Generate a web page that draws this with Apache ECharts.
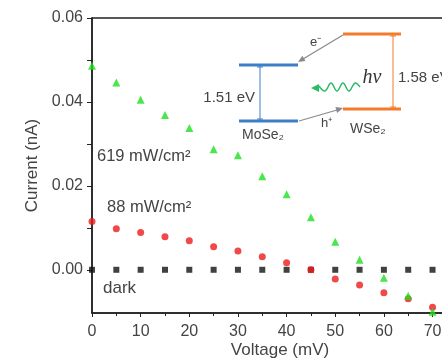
<!DOCTYPE html>
<html>
<head>
<meta charset="utf-8">
<script src="https://cdn.jsdelivr.net/npm/echarts@6/dist/echarts.min.js"></script>
<style>
  html, body { margin: 0; padding: 0; background: #fff; }
  #chart { width: 442px; height: 359px; }
</style>
</head>
<body>
<div id="chart"></div>
<script>
// voltages (mV)
var voltage = [0, 5, 10, 15, 20, 25, 30, 35, 40, 45, 50, 55, 60, 65, 70];
// current (nA) at each voltage
var light619 = [0.0486, 0.0446, 0.0405, 0.0369, 0.0338, 0.0287, 0.0273, 0.0223, 0.0180, 0.0125, 0.0067, 0.0024, -0.0019, -0.0062, -0.0100];
var light88 = [0.0115, 0.0098, 0.0089, 0.0079, 0.0069, 0.0055, 0.0045, 0.0031, 0.0017, 0.0000, -0.0022, -0.0036, -0.0055, -0.0069, -0.0089];
var dark = [0, 0, 0, 0, 0, 0, 0, 0, 0, 0, 0, 0, 0, 0, 0];
var yLabels = [0, 0.02, 0.04, 0.06];
var yTicks = [0, 0.01, 0.02, 0.03, 0.04, 0.05, 0.06];

function pairs(vals) {
	return voltage.map(function (v, i) { return [v, vals[i]]; });
}

var chart = echarts.init(document.getElementById('chart'));

var txt = '#444';
var font = 'Liberation Sans, Arial, sans-serif';

function label(x, y, text, size, align, extra) {
	var s = {
		text: text, fill: txt, font: (size || 13) + 'px ' + font,
		textAlign: align || 'left', textVerticalAlign: 'middle'
	};
	if (extra) for (var k in extra) s[k] = extra[k];
	return { type: 'text', x: x, y: y, style: s, z: 10 };
}
function seg(x1, y1, x2, y2, color, w) {
	return { type: 'line', shape: { x1: x1, y1: y1, x2: x2, y2: y2 }, style: { stroke: color, lineWidth: w }, z: 10 };
}
function head(pts, color) {
	return { type: 'polygon', shape: { points: pts }, style: { fill: color }, z: 10 };
}

var blue = '#3d7fc6', orange = '#f47b2c', grey = '#8a8a8a', wave = '#2dbb6a';

var option = {
	backgroundColor: '#fff',
	animation: false,
	grid: {
		left: 92, right: -10, top: 18, bottom: 46,
		outerBoundsMode: 'none',
		show: true, borderColor: '#222', borderWidth: 1.5
	},
	xAxis: {
		type: 'value', min: 0, max: 74, interval: 10,
		name: 'Voltage (mV)', nameLocation: 'middle', nameGap: 29, nameMoveOverlap: false,
		nameTextStyle: { fontSize: 17, color: txt, fontFamily: font, padding: [0, 0, 0, 16] },
		axisLine: { show: true, onZero: false, lineStyle: { color: '#222', width: 1.5 } },
		axisTick: { show: true, length: 4, lineStyle: { color: '#222' } },
		minorTick: { show: true, splitNumber: 2, length: 3, lineStyle: { color: '#222' } },
		axisLabel: { fontSize: 16, color: txt, fontFamily: font, margin: 11, showMaxLabel: false },
		splitLine: { show: false }
	},
	yAxis: {
		type: 'value', min: -0.0103, max: 0.06,
		name: 'Current (nA)', nameLocation: 'middle', nameGap: 51, nameMoveOverlap: false,
		nameTextStyle: { fontSize: 17, color: txt, fontFamily: font },
		axisLine: { show: true, onZero: false, lineStyle: { color: '#222', width: 1.5 } },
		axisTick: { show: true, length: 5, customValues: yTicks, lineStyle: { color: '#222' } },
		axisLabel: {
			customValues: yLabels, fontSize: 16, color: txt, fontFamily: font, margin: 9,
			formatter: function (v) { return v.toFixed(2); }
		},
		splitLine: { show: false }
	},
	series: [
		{ name: 'dark', type: 'scatter', symbol: 'rect', symbolSize: 6, itemStyle: { color: '#111' }, data: pairs(dark) },
		{ name: '88 mW/cm2', type: 'scatter', symbol: 'circle', symbolSize: 7, itemStyle: { color: '#ec1c1c' }, data: pairs(light88) },
		{ name: '619 mW/cm2', type: 'scatter', symbol: 'triangle', symbolSize: 8, itemStyle: { color: '#1ee01e' }, data: pairs(light619) }
	],
	graphic: [
		label(97, 156, '619 mW/cm²', 16.5),
		label(107, 207, '88 mW/cm²', 16.5),
		label(103, 288, 'dark', 17),

		// MoSe2 band edges
		seg(239, 65, 298, 65, blue, 3),
		seg(239, 121, 298, 121, blue, 3),
		seg(260, 65, 260, 121, blue, 1),
		seg(257, 67, 263, 67, blue, 1),
		seg(257, 119, 263, 119, blue, 1),
		// WSe2 band edges
		seg(343, 34, 401, 34, orange, 3),
		seg(343, 109, 401, 109, orange, 3),
		seg(393, 34, 393, 109, orange, 1),
		seg(390, 36, 396, 36, orange, 1),
		seg(390, 107, 396, 107, orange, 1),
		// electron transfer arrow
		seg(343, 35, 303, 59, grey, 1.2),
		head([[298, 62], [305.5, 60.9], [302.4, 55.8]], grey),
		// hole transfer arrow
		seg(299, 121, 337, 110, grey, 1.2),
		head([[343, 108], [337.1, 112.9], [335.4, 107.1]], grey),
		// photon
		{
			type: 'polyline', z: 10,
			shape: { points: [[360, 87], [355, 83], [349, 91], [343, 83], [337, 91], [331, 83], [325, 91], [319, 86]], smooth: 0.4 },
			style: { stroke: wave, lineWidth: 1.5, fill: null }
		},
		head([[311, 88], [319, 84], [319, 92]], wave),

		label(255, 98, '1.51 eV', 15, 'right'),
		label(242, 135, 'MoSe₂', 14),
		label(350, 129, 'WSe₂', 14),
		label(398, 78, '1.58 eV', 15),
		label(310, 42, 'e⁻', 13),
		label(321, 123, 'h⁺', 13),
		label(372, 78, 'hν', 20, 'center', { font: 'italic 20px Liberation Serif, Times New Roman, serif', fill: '#333' })
	]
};

chart.setOption(option);
</script>
</body>
</html>
